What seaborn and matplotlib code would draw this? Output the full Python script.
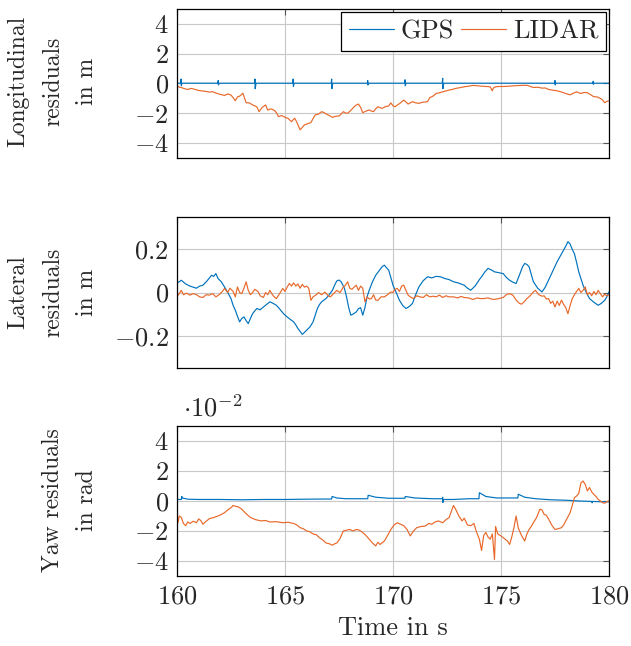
import numpy as np
import matplotlib
matplotlib.use("Agg")
import matplotlib.pyplot as plt
import seaborn as sns
from matplotlib.ticker import FuncFormatter

GPS_COLOR = "#0072BD"
LIDAR_COLOR = "#E8682A"

# longitudinal residuals in m, (time in s, value)
lon_gps = [(160.0, 0.02), (160.17, 0.02), (160.19, 0.3), (160.2, -0.15), (160.23, 0.02),
           (161.89, 0.02), (161.91, 0.2), (161.92, -0.1), (161.95, 0.02),
           (163.59, 0.02), (163.61, 0.3), (163.62, -0.35), (163.66, 0.02),
           (165.36, 0.02), (165.38, 0.3), (165.39, -0.2), (165.42, 0.02),
           (167.14, 0.02), (167.16, 0.3), (167.17, -0.35), (167.21, 0.02),
           (168.81, 0.02), (168.83, 0.2), (168.84, -0.1), (168.87, 0.02),
           (170.54, 0.02), (170.56, 0.25), (170.57, -0.15), (170.6, 0.02),
           (172.28, 0.02), (172.3, 0.35), (172.31, -0.35), (172.35, 0.02),
           (177.48, 0.02), (177.5, 0.2), (177.51, -0.1), (177.54, 0.02),
           (179.25, 0.02), (179.27, 0.15), (179.28, -0.05), (179.31, 0.02), (180.0, 0.02)]

lon_lidar = [(160.0, -0.15), (160.1, -0.25), (160.2, -0.27), (160.35, -0.35), (160.5, -0.4),
             (160.65, -0.33), (160.8, -0.38), (160.95, -0.45), (161.1, -0.49), (161.3, -0.52),
             (161.5, -0.58), (161.65, -0.55), (161.8, -0.64), (162.0, -0.73), (162.2, -0.8),
             (162.35, -0.7), (162.5, -0.78), (162.6, -0.95), (162.7, -1.16), (162.8, -0.9),
             (162.9, -0.85), (163.05, -0.65), (163.2, -1.29), (163.35, -1.3), (163.5, -1.44),
             (163.6, -1.5), (163.7, -1.58), (163.8, -1.89), (163.95, -1.6), (164.1, -1.44),
             (164.2, -1.78), (164.35, -1.7), (164.5, -1.8), (164.6, -1.95), (164.7, -2.22),
             (164.85, -2.15), (165.0, -2.27), (165.15, -2.35), (165.3, -2.56), (165.45, -2.33),
             (165.55, -2.6), (165.7, -3.11), (165.8, -2.95), (165.9, -2.78), (166.05, -2.7),
             (166.2, -2.62), (166.3, -2.35), (166.4, -2.11), (166.55, -2.05), (166.7, -1.89),
             (166.8, -1.95), (166.9, -2.04), (167.05, -2.15), (167.2, -2.27), (167.35, -2.2),
             (167.5, -2.18), (167.6, -2.05), (167.7, -1.89), (167.8, -1.98), (167.9, -2.0),
             (168.05, -1.8), (168.2, -1.56), (168.3, -1.45), (168.4, -1.38), (168.5, -1.6),
             (168.6, -1.96), (168.75, -1.85), (168.9, -1.78), (169.0, -1.85), (169.1, -1.89),
             (169.2, -1.7), (169.3, -1.56), (169.4, -1.62), (169.5, -1.67), (169.65, -1.55),
             (169.8, -1.51), (169.9, -1.3), (170.0, -1.5), (170.1, -1.56), (170.2, -1.45),
             (170.35, -1.3), (170.5, -1.11), (170.6, -1.25), (170.7, -1.38), (170.8, -1.3),
             (170.9, -1.22), (171.05, -1.3), (171.2, -1.33), (171.4, -1.25), (171.6, -1.22),
             (171.7, -0.95), (171.85, -0.85), (172.0, -0.67), (172.15, -0.62), (172.3, -0.56),
             (172.45, -0.5), (172.6, -0.44), (172.75, -0.4), (172.9, -0.33), (173.1, -0.28),
             (173.3, -0.22), (173.5, -0.18), (173.7, -0.13), (173.9, -0.15), (174.1, -0.18),
             (174.3, -0.2), (174.5, -0.22), (174.6, -0.49), (174.65, -0.3), (174.75, -0.22),
             (174.9, -0.2), (175.15, -0.2), (175.4, -0.18), (175.65, -0.15), (175.9, -0.13),
             (176.2, -0.12), (176.5, -0.27), (176.7, -0.25), (176.9, -0.31), (177.05, -0.3),
             (177.2, -0.4), (177.4, -0.45), (177.6, -0.49), (177.75, -0.55), (177.9, -0.62),
             (178.05, -0.7), (178.2, -0.76), (178.35, -0.65), (178.5, -0.56), (178.6, -0.62),
             (178.7, -0.67), (178.85, -0.6), (179.0, -0.62), (179.15, -0.75), (179.3, -0.89),
             (179.45, -0.9), (179.6, -1.0), (179.7, -1.1), (179.8, -1.29), (179.9, -1.2),
             (180.0, -1.16)]

# lateral residuals in m
lat_gps = [(160.0, 0.045), (160.1, 0.05), (160.2, 0.057), (160.4, 0.04), (160.6, 0.03),
           (160.75, 0.025), (160.9, 0.02), (161.05, 0.03), (161.2, 0.034), (161.4, 0.055),
           (161.6, 0.08), (161.7, 0.075), (161.8, 0.088), (161.9, 0.065), (162.05, 0.05),
           (162.2, 0.026), (162.35, 0.0), (162.5, -0.028), (162.6, -0.06), (162.7, -0.082),
           (162.8, -0.11), (162.9, -0.136), (163.0, -0.12), (163.1, -0.113), (163.2, -0.13),
           (163.3, -0.144), (163.4, -0.12), (163.5, -0.098), (163.6, -0.085), (163.7, -0.074),
           (163.85, -0.08), (164.0, -0.067), (164.15, -0.055), (164.3, -0.043), (164.45, -0.05),
           (164.6, -0.059), (164.7, -0.07), (164.8, -0.082), (164.95, -0.1), (165.1, -0.113),
           (165.25, -0.125), (165.4, -0.136), (165.5, -0.15), (165.6, -0.167), (165.7, -0.18),
           (165.8, -0.194), (165.9, -0.185), (166.0, -0.175), (166.15, -0.16), (166.3, -0.136),
           (166.4, -0.105), (166.5, -0.074), (166.6, -0.055), (166.7, -0.043), (166.8, -0.035),
           (166.9, -0.028), (167.05, -0.01), (167.2, 0.011), (167.3, 0.035), (167.4, 0.054),
           (167.5, 0.058), (167.6, 0.05), (167.75, 0.02), (167.85, -0.02), (167.95, -0.07),
           (168.05, -0.105), (168.15, -0.1), (168.3, -0.09), (168.4, -0.075), (168.5, -0.07),
           (168.6, -0.105), (168.7, -0.07), (168.8, -0.02), (168.9, 0.011), (169.05, 0.05),
           (169.2, 0.08), (169.35, 0.1), (169.5, 0.12), (169.6, 0.127), (169.7, 0.115),
           (169.8, 0.104), (169.9, 0.07), (170.0, 0.034), (170.15, 0.0), (170.3, -0.036),
           (170.45, -0.06), (170.6, -0.074), (170.75, -0.065), (170.9, -0.051), (171.05, -0.01),
           (171.2, 0.026), (171.4, 0.055), (171.6, 0.073), (171.8, 0.068), (172.0, 0.075),
           (172.2, 0.073), (172.4, 0.065), (172.6, 0.06), (172.8, 0.05), (173.0, 0.045),
           (173.2, 0.038), (173.3, 0.034), (173.45, 0.02), (173.6, 0.011), (173.8, 0.03),
           (174.0, 0.06), (174.1, 0.073), (174.25, 0.095), (174.4, 0.112), (174.55, 0.105),
           (174.7, 0.096), (174.9, 0.092), (175.1, 0.088), (175.25, 0.07), (175.4, 0.057),
           (175.55, 0.048), (175.7, 0.042), (175.85, 0.08), (176.0, 0.12), (176.1, 0.135),
           (176.2, 0.13), (176.3, 0.12), (176.4, 0.085), (176.5, 0.05), (176.7, 0.02),
           (176.9, 0.003), (177.05, 0.025), (177.2, 0.057), (177.4, 0.1), (177.6, 0.143),
           (177.75, 0.17), (177.9, 0.197), (178.0, 0.215), (178.1, 0.236), (178.2, 0.225),
           (178.3, 0.2), (178.4, 0.18), (178.5, 0.14), (178.6, 0.096), (178.7, 0.065),
           (178.8, 0.034), (178.95, 0.0), (179.1, -0.028), (179.3, -0.045), (179.5, -0.059),
           (179.65, -0.05), (179.8, -0.036), (179.9, -0.02), (180.0, 0.003)]

lat_lidar = [(160.0, -0.02), (160.1, -0.005), (160.2, 0.01), (160.3, -0.01), (160.45, -0.003),
             (160.6, -0.012), (160.75, -0.005), (160.9, -0.01), (161.05, -0.02), (161.2, -0.023),
             (161.35, -0.01), (161.5, -0.012), (161.65, -0.005), (161.8, -0.02), (161.95, -0.01),
             (162.1, 0.005), (162.2, 0.019), (162.35, 0.0), (162.45, 0.02), (162.6, 0.005),
             (162.7, -0.02), (162.8, 0.026), (162.9, 0.0), (163.0, -0.005), (163.1, 0.02),
             (163.2, 0.05), (163.3, 0.01), (163.4, -0.01), (163.5, 0.0), (163.6, 0.015),
             (163.75, 0.005), (163.85, -0.015), (164.0, -0.023), (164.1, 0.0), (164.2, -0.01),
             (164.3, 0.01), (164.45, -0.015), (164.6, -0.028), (164.75, -0.005), (164.9, 0.019),
             (165.0, 0.005), (165.1, 0.025), (165.2, 0.042), (165.3, 0.03), (165.4, 0.045),
             (165.5, 0.03), (165.6, 0.04), (165.7, 0.02), (165.8, 0.038), (165.9, 0.025),
             (166.0, 0.03), (166.1, 0.02), (166.2, -0.036), (166.3, -0.02), (166.45, -0.01),
             (166.55, 0.0), (166.7, -0.01), (166.85, 0.002), (167.0, -0.015), (167.1, -0.02),
             (167.25, -0.005), (167.4, 0.01), (167.55, 0.0), (167.7, 0.025), (167.8, 0.034),
             (167.9, 0.05), (168.0, 0.02), (168.1, 0.015), (168.2, 0.025), (168.3, 0.034),
             (168.4, 0.01), (168.5, 0.03), (168.6, 0.02), (168.7, -0.043), (168.8, -0.02),
             (168.9, -0.03), (169.0, -0.028), (169.1, -0.01), (169.2, -0.035), (169.3, -0.036),
             (169.45, -0.02), (169.6, -0.02), (169.75, -0.01), (169.9, 0.003), (170.0, 0.0),
             (170.1, 0.015), (170.2, 0.019), (170.3, 0.005), (170.4, 0.03), (170.5, 0.034),
             (170.6, 0.01), (170.7, -0.012), (170.8, -0.02), (170.95, -0.028), (171.1, -0.015),
             (171.25, -0.02), (171.4, -0.023), (171.55, -0.01), (171.7, -0.02), (171.85, -0.017),
             (172.0, -0.02), (172.15, -0.012), (172.3, -0.023), (172.45, -0.015), (172.6, -0.02),
             (172.8, -0.02), (173.0, -0.025), (173.15, -0.018), (173.3, -0.023), (173.5, -0.025),
             (173.7, -0.032), (173.9, -0.025), (174.05, -0.028), (174.2, -0.028), (174.4, -0.025),
             (174.55, -0.03), (174.7, -0.032), (174.9, -0.028), (175.1, -0.023), (175.25, -0.01),
             (175.4, -0.005), (175.55, -0.012), (175.7, -0.035), (175.85, -0.05), (175.95, -0.054),
             (176.1, -0.04), (176.2, -0.028), (176.35, -0.015), (176.5, 0.003), (176.6, 0.01),
             (176.75, -0.01), (176.9, -0.017), (177.0, -0.015), (177.1, -0.03), (177.2, -0.028),
             (177.3, -0.05), (177.4, -0.04), (177.5, -0.067), (177.6, -0.04), (177.7, -0.06),
             (177.8, -0.035), (177.9, -0.055), (178.0, -0.07), (178.1, -0.098), (178.2, -0.06),
             (178.3, -0.028), (178.4, -0.01), (178.5, 0.005), (178.6, 0.019), (178.7, 0.0),
             (178.8, 0.01), (178.9, 0.026), (179.0, -0.01), (179.1, 0.0), (179.2, -0.015),
             (179.3, 0.005), (179.4, -0.01), (179.5, 0.01), (179.6, -0.005), (179.7, -0.02),
             (179.8, -0.008), (179.9, -0.015), (180.0, -0.01)]

# yaw residuals in units of 1e-2 rad
yaw_gps = [(160.0, 0.1), (160.2, 0.1), (160.22, 0.3), (160.24, 0.2), (160.5, 0.12),
           (161.0, 0.1), (162.0, 0.1), (163.0, 0.08), (164.0, 0.1), (165.0, 0.1),
           (166.0, 0.12), (167.0, 0.13), (167.16, 0.13), (167.18, 0.3), (167.4, 0.2),
           (167.8, 0.15), (168.5, 0.15), (168.83, 0.15), (168.85, 0.38), (169.2, 0.25),
           (169.8, 0.18), (170.55, 0.18), (170.57, 0.3), (171.0, 0.2), (171.8, 0.15),
           (172.28, 0.15), (172.3, 0.25), (172.31, -0.1), (172.33, 0.1), (172.8, 0.1),
           (173.5, 0.15), (173.98, 0.15), (174.0, 0.55), (174.3, 0.3), (174.8, 0.2),
           (175.4, 0.2), (175.78, 0.2), (175.8, 0.45), (176.1, 0.25), (176.6, 0.15),
           (177.3, 0.08), (178.0, 0.05), (178.6, 0.0), (179.2, -0.03), (179.22, -0.12),
           (179.24, -0.03), (179.6, -0.05), (180.0, -0.05)]

yaw_lidar = [(160.0, -0.9), (160.05, -1.45), (160.1, -1.0), (160.2, -1.1), (160.3, -1.5),
             (160.4, -1.65), (160.5, -1.4), (160.6, -1.5), (160.75, -1.35), (160.9, -1.45),
             (161.0, -1.2), (161.1, -1.3), (161.2, -1.55), (161.35, -1.35), (161.5, -1.18),
             (161.7, -1.1), (161.9, -1.0), (162.05, -0.9), (162.2, -0.78), (162.35, -0.6),
             (162.5, -0.45), (162.6, -0.3), (162.7, -0.35), (162.85, -0.4), (163.0, -0.55),
             (163.2, -0.85), (163.4, -1.1), (163.65, -1.25), (163.9, -1.33), (164.1, -1.3),
             (164.3, -1.4), (164.6, -1.38), (164.9, -1.45), (165.15, -1.42), (165.4, -1.5),
             (165.55, -1.6), (165.7, -1.78), (165.85, -1.85), (166.0, -2.0), (166.15, -2.05),
             (166.3, -2.2), (166.45, -2.25), (166.6, -2.45), (166.75, -2.6), (166.9, -2.8),
             (167.05, -2.85), (167.2, -2.95), (167.3, -2.85), (167.4, -2.8), (167.55, -2.5),
             (167.7, -2.0), (167.85, -1.95), (168.0, -1.9), (168.15, -2.0), (168.3, -1.9),
             (168.45, -1.95), (168.6, -2.1), (168.75, -2.3), (168.9, -2.55), (169.05, -2.8),
             (169.2, -3.0), (169.3, -2.75), (169.4, -2.9), (169.6, -2.67), (169.75, -2.3),
             (169.9, -1.9), (170.05, -1.6), (170.2, -1.45), (170.35, -1.55), (170.5, -1.65),
             (170.65, -1.9), (170.8, -2.33), (170.95, -2.0), (171.1, -1.78), (171.3, -1.7),
             (171.5, -1.67), (171.65, -1.5), (171.8, -1.55), (171.95, -1.4), (172.1, -1.33),
             (172.3, -1.45), (172.45, -1.25), (172.6, -1.1), (172.7, -0.7), (172.8, -0.3),
             (172.9, -0.55), (173.05, -1.0), (173.2, -1.33), (173.3, -1.15), (173.45, -1.6),
             (173.6, -1.65), (173.75, -1.5), (173.85, -2.0), (174.0, -2.55), (174.1, -3.3),
             (174.2, -2.3), (174.3, -2.1), (174.4, -2.4), (174.5, -2.55), (174.6, -2.2),
             (174.7, -3.9), (174.75, -1.7), (174.85, -2.2), (175.0, -2.33), (175.15, -2.5),
             (175.3, -2.67), (175.4, -2.9), (175.5, -2.4), (175.6, -1.78), (175.7, -1.0),
             (175.8, -1.8), (175.95, -2.3), (176.1, -2.67), (176.2, -2.2), (176.3, -1.9),
             (176.4, -1.7), (176.5, -1.45), (176.65, -1.1), (176.8, -0.55), (176.9, -0.6),
             (177.0, -0.9), (177.1, -0.95), (177.2, -1.2), (177.35, -1.6), (177.5, -1.9),
             (177.65, -1.85), (177.8, -1.78), (177.9, -1.6), (178.0, -1.33), (178.1, -1.05),
             (178.2, -0.78), (178.3, -0.3), (178.4, 0.22), (178.5, 0.33), (178.6, 0.5),
             (178.7, 1.2), (178.8, 1.33), (178.9, 1.1), (179.0, 0.67), (179.1, 0.9),
             (179.2, 0.6), (179.3, 0.44), (179.4, 0.3), (179.5, 0.11), (179.6, 0.0),
             (179.7, -0.11), (179.8, -0.15), (179.9, -0.05), (180.0, 0.0)]

sns.set_style("white")
plt.rcParams["font.family"] = ["cmr10", "DejaVu Serif"]
plt.rcParams["mathtext.fontset"] = "cm"
plt.rcParams["axes.formatter.use_mathtext"] = True
plt.rcParams["axes.unicode_minus"] = False

FS = 19


def draw(ax, series, color, label=None):
    t, v = zip(*series)
    sns.lineplot(x=np.array(t), y=np.array(v), ax=ax, color=color, linewidth=0.85,
                 estimator=None, sort=False, label=label, legend=False)


def style(ax, ylim, yticks, show_x):
    ax.set_xlim(160, 180)
    ax.set_ylim(*ylim)
    ax.set_xticks([160, 165, 170, 175, 180])
    ax.set_yticks(yticks)
    ax.grid(True, color="#c8c8c8", linewidth=0.8)
    ax.set_axisbelow(True)
    for s in ax.spines.values():
        s.set_color("black")
        s.set_linewidth(0.9)
    ax.tick_params(direction="in", length=4, width=0.8, color="#555555",
                   top=True, right=True, labelsize=FS, pad=6)
    ax.yaxis.set_major_formatter(FuncFormatter(lambda v, _: f"${v:g}$"))
    if show_x:
        ax.xaxis.set_major_formatter(FuncFormatter(lambda v, _: f"${v:g}$"))
    else:
        ax.tick_params(labelbottom=False)
    ax.set_xlabel("")
    ax.set_ylabel("")


fig = plt.figure(figsize=(6.31, 6.46), dpi=100)
left, width = 0.2805, 0.6846
ax1 = fig.add_axes([left, 0.7554, width, 0.2307])
ax2 = fig.add_axes([left, 0.4303, width, 0.2337])
ax3 = fig.add_axes([left, 0.1084, width, 0.2322])

draw(ax1, lon_gps, GPS_COLOR, "GPS")
draw(ax1, lon_lidar, LIDAR_COLOR, "LIDAR")
style(ax1, (-5, 5), [-4, -2, 0, 2, 4], False)
ax1.legend(loc="upper right", ncol=2, fontsize=19, frameon=True, fancybox=False,
           edgecolor="black", framealpha=1, borderpad=0.3, handlelength=1.7,
           handletextpad=0.25, columnspacing=0.3, borderaxespad=0.1)
ax1.get_legend().get_frame().set_linewidth(0.9)

draw(ax2, lat_gps, GPS_COLOR)
draw(ax2, lat_lidar, LIDAR_COLOR)
style(ax2, (-0.35, 0.35), [-0.2, 0, 0.2], False)

draw(ax3, yaw_gps, GPS_COLOR)
draw(ax3, yaw_lidar, LIDAR_COLOR)
style(ax3, (-5, 5), [-4, -2, 0, 2, 4], True)
ax3.text(0.015, 1.03, r"$\cdot 10^{-2}$", transform=ax3.transAxes, fontsize=FS,
         ha="left", va="bottom")
ax3.set_xlabel("Time in s", fontsize=FS, labelpad=6)

label_x = 98 / 631
for y_px, txt in [(81, "Longitudinal\nresiduals\nin m"),
                  (292, "Lateral\nresiduals\nin m"),
                  (500, "Yaw residuals\nin rad")]:
    fig.text(label_x, 1 - y_px / 646, txt, rotation=90, ha="right", va="center",
             multialignment="center", fontsize=17, linespacing=1.7)

fig.savefig("out.png", dpi=100)
